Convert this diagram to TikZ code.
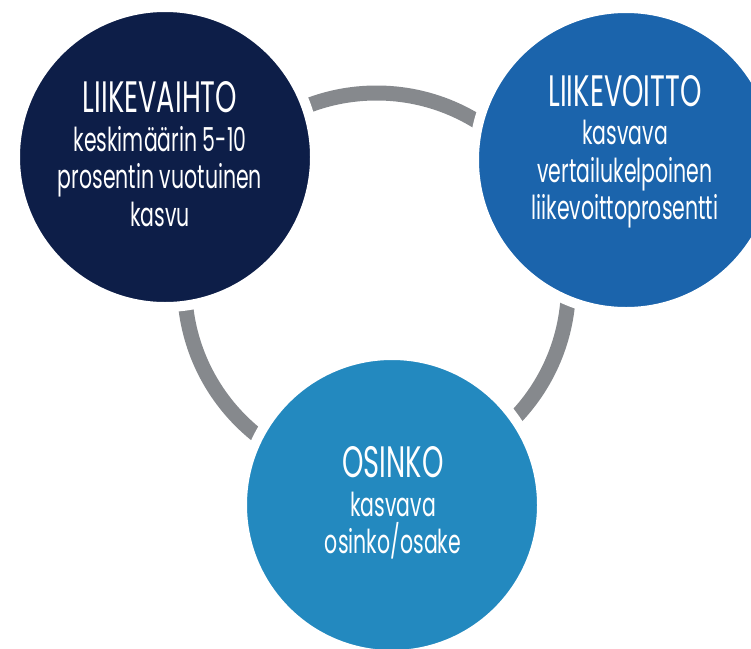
\documentclass[tikz,border=0pt]{standalone}
\usepackage{fontspec}
\setmainfont{Poppins}[FakeStretch=0.62]
\newfontfamily\titlefont{Poppins}[FakeStretch=0.62]
\definecolor{navy}{RGB}{13,30,72}
\definecolor{midblue}{RGB}{27,100,172}
\definecolor{lightblue}{RGB}{35,137,191}
\definecolor{ringgray}{RGB}{134,137,141}
\tikzset{
  bubble/.style={circle, draw=white, line width=10pt, inner sep=0pt, minimum size=#1},
  label/.style={text=white, align=center, inner sep=0pt,
    font=\fontsize{33}{37.5}\selectfont},
}
\newcommand{\ttl}[1]{{\titlefont\fontsize{44}{42}\selectfont #1}\\[1pt]}
\begin{document}
\begin{tikzpicture}[x=1pt,y=-1pt]
\useasboundingbox (0,0) rectangle (751,648);
\begin{scope}
\clip (0,0) rectangle (751,648);
\coordinate (rc) at (376.5,285);
\draw[ringgray, line width=15pt] (rc) circle[radius=192];
\node[bubble=300pt, fill=navy] (L) at (165,157) {};
\node[bubble=304pt, fill=midblue] (R) at (626,160) {};
\node[bubble=300pt, fill=lightblue] (B) at (392,505) {};
\end{scope}
\node[label] (Lt) at (160,154) {\ttl{LIIKEVAIHTO}keskimäärin 5-10\\prosentin vuotuinen\\kasvu};
\node[label] (Rt) at (625,152) {\ttl{LIIKEVOITTO}kasvava\\vertailukelpoinen\\liikevoittoprosentti};
\node[label] (Bt) at (393,503) {\ttl{OSINKO}kasvava\\osinko/osake};
\end{tikzpicture}
\end{document}
